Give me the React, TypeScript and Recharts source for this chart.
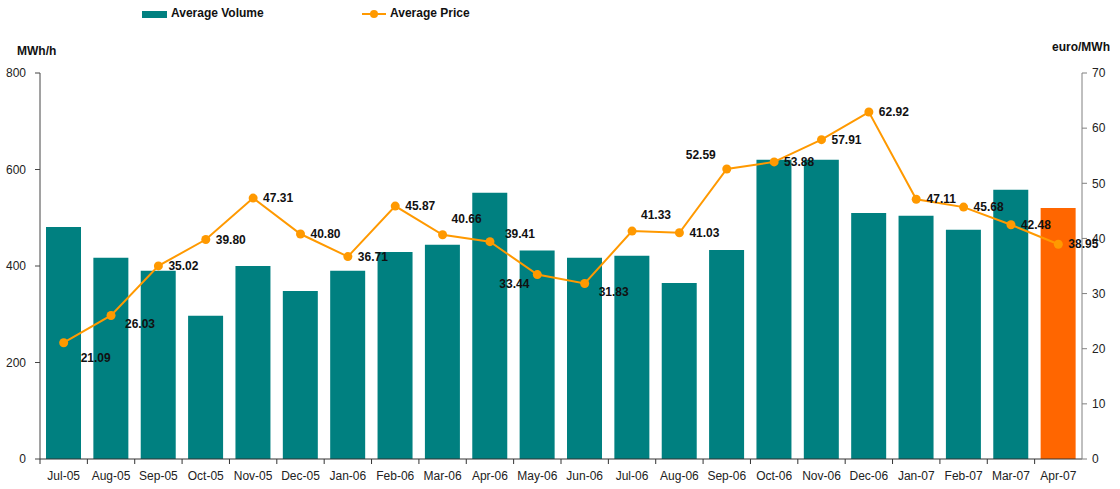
import { ComposedChart, Bar, Line, XAxis, YAxis, Cell, LabelList } from 'recharts';

const MONTHS = [
  'Jul-05', 'Aug-05', 'Sep-05', 'Oct-05', 'Nov-05', 'Dec-05', 'Jan-06', 'Feb-06', 'Mar-06', 'Apr-06', 'May-06',
  'Jun-06', 'Jul-06', 'Aug-06', 'Sep-06', 'Oct-06', 'Nov-06', 'Dec-06', 'Jan-07', 'Feb-07', 'Mar-07', 'Apr-07',
];
const VOLUME = [481, 417, 390, 297, 400, 348, 390, 429, 444, 552, 432, 417, 421, 365, 433, 620, 620, 510, 504, 475, 558, 520];
const PRICE = [
  21.09, 26.03, 35.02, 39.8, 47.31, 40.8, 36.71, 45.87, 40.66, 39.41, 33.44,
  31.83, 41.33, 41.03, 52.59, 53.88, 57.91, 62.92, 47.11, 45.68, 42.48, 38.95,
];
const VOLUME_TICKS = [0, 200, 400, 600, 800];
const PRICE_TICKS = [0, 10, 20, 30, 40, 50, 60, 70];
// where each price label sits relative to its point
const LABEL_SPOT = [
  'lowRight', 'belowRight', 'right', 'right', 'right', 'right', 'right', 'right', 'aboveRight', 'upRight', 'belowLeft',
  'belowRight', 'aboveRight', 'right', 'aboveLeft', 'right', 'right', 'right', 'right', 'right', 'right', 'right',
];

const NUDGE: Record<string, [number, number]> = {
  right: [25, 0],
  lowRight: [32, 15],
  belowRight: [29, 9],
  aboveRight: [24, -16],
  upRight: [30, -8],
  belowLeft: [-23, 9],
  aboveLeft: [-26, -14],
};

const TEAL = '#008080';
const ORANGE_BAR = '#FF6600';
const ORANGE_LINE = '#FF9900';
const FONT = '"Liberation Sans", Arial, sans-serif';

const W = 1120;
const H = 489;
const LEFT_W = 40;
const RIGHT_W = 38;
const BAND = (W - LEFT_W - RIGHT_W) / MONTHS.length;

const data = MONTHS.map((m, i) => ({ month: m, volume: VOLUME[i], price: PRICE[i] }));

const MonthTick = ({ x, y, payload }: any) => (
  <g>
    <line x1={x - BAND / 2} y1={y} x2={x - BAND / 2} y2={y + 5} stroke="#333" />
    <text x={x} y={y + 21} textAnchor="middle" fontSize={12} fill="#222" fontFamily={FONT}>
      {payload.value}
    </text>
  </g>
);

const PriceLabel = ({ x, y, value, index }: any) => {
  const [dx, dy] = NUDGE[LABEL_SPOT[index]] || NUDGE.right;
  return (
    <text x={x + dx} y={y + dy + 4} textAnchor="middle" fontSize={12} fontWeight="bold" fill="#111" fontFamily={FONT}>
      {Number(value).toFixed(2)}
    </text>
  );
};

const textStyle = { position: 'absolute' as const, fontFamily: FONT, fontSize: 12, fontWeight: 'bold' as const, color: '#111', whiteSpace: 'nowrap' as const };

export default function App() {
  return (
    <div style={{ position: 'relative', width: W, height: H, background: '#fff', fontFamily: FONT }}>
      <style>{`body{margin:0}`}</style>

      {/* legend */}
      <div style={{ position: 'absolute', left: 142, top: 11, width: 25, height: 7, background: TEAL }} />
      <div style={{ ...textStyle, left: 171, top: 6 }}>Average Volume</div>
      <svg style={{ position: 'absolute', left: 360, top: 8 }} width={28} height={12}>
        <line x1={2} y1={6} x2={26} y2={6} stroke={ORANGE_LINE} strokeWidth={2} />
        <circle cx={14} cy={6} r={4} fill={ORANGE_LINE} />
      </svg>
      <div style={{ ...textStyle, left: 390, top: 6 }}>Average Price</div>

      {/* axis titles */}
      <div style={{ ...textStyle, left: 17, top: 44 }}>MWh/h</div>
      <div style={{ ...textStyle, left: 1052, top: 40 }}>euro/MWh</div>

      <ComposedChart width={W} height={H} data={data} margin={{ top: 73, right: 0, bottom: 0, left: 0 }}>
        <XAxis
          dataKey="month"
          height={30}
          tickSize={0}
          tickMargin={0}
          interval={0}
          tick={<MonthTick />}
          axisLine={{ stroke: '#333' }}
        />
        <YAxis
          yAxisId="vol"
          orientation="left"
          width={LEFT_W}
          domain={[0, 800]}
          ticks={VOLUME_TICKS}
          tickSize={5}
          tickMargin={9}
          axisLine={{ stroke: '#444' }}
          tickLine={{ stroke: '#444' }}
          tick={{ fontSize: 12, fill: '#222', fontFamily: FONT }}
        />
        <YAxis
          yAxisId="price"
          orientation="right"
          width={RIGHT_W}
          domain={[0, 70]}
          ticks={PRICE_TICKS}
          tickSize={5}
          tickMargin={5}
          axisLine={{ stroke: '#808080' }}
          tickLine={{ stroke: '#808080' }}
          tick={{ fontSize: 12, fill: '#222', fontFamily: FONT, textAnchor: 'start' }}
        />
        <Bar yAxisId="vol" dataKey="volume" barSize={35} isAnimationActive={false}>
          {data.map((d, i) => (
            <Cell key={d.month} fill={i === data.length - 1 ? ORANGE_BAR : TEAL} />
          ))}
        </Bar>
        <Line
          yAxisId="price"
          dataKey="price"
          type="linear"
          stroke={ORANGE_LINE}
          strokeWidth={2}
          dot={{ r: 4.5, fill: ORANGE_LINE, stroke: ORANGE_LINE, strokeWidth: 0 }}
          isAnimationActive={false}
        >
          <LabelList dataKey="price" content={<PriceLabel />} />
        </Line>
      </ComposedChart>
    </div>
  );
}
